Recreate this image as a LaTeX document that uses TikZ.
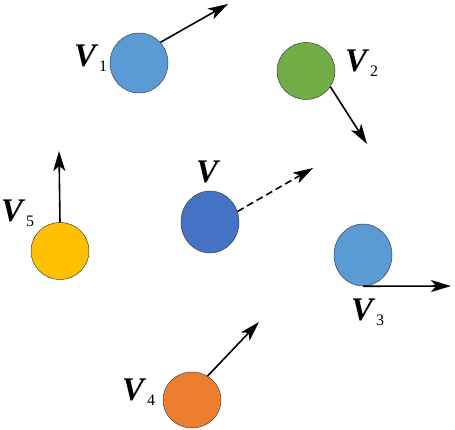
\documentclass[tikz,border=0pt]{standalone}
\usepackage{fontspec}
\setmainfont{Liberation Serif}
\usetikzlibrary{shapes.geometric,arrows.meta}
\definecolor{cblue}{HTML}{5B9BD5}
\definecolor{cgreen}{HTML}{70AD47}
\definecolor{cdark}{HTML}{4472C4}
\definecolor{corange}{HTML}{ED7D31}
\definecolor{cyellow}{HTML}{FFC000}
\newcommand\vlab[1]{{\fontsize{33}{33}\selectfont\bfseries\itshape V}\hspace{3pt}\raisebox{-5pt}{\fontsize{16}{16}\selectfont #1}}
\tikzset{
  ball/.style={ellipse, draw=black!75, line width=0.5pt, minimum width=58pt, minimum height=60pt, inner sep=0pt},
  vel/.style={line width=1.6pt, -{Stealth[length=20pt,width=12pt,inset=5pt]}},
  lab/.style={anchor=base west, inner sep=0pt}
}
\begin{document}
\begin{tikzpicture}[x=1pt,y=-1pt]
\useasboundingbox (0,0) rectangle (455,430);
% balls
\node[ball, fill=cblue] (c1) at (139,63) {};
\node[ball, fill=cgreen, minimum height=57pt] (c2) at (306,71) {};
\node[ball, fill=cdark, minimum height=62pt] (cv) at (210,222) {};
\node[ball, fill=cblue, minimum height=62pt] (c3) at (363,255) {};
\node[ball, fill=corange, minimum height=56pt] (c4) at (192,400) {};
\node[ball, fill=cyellow, minimum height=57pt] (c5) at (60,251) {};
% tips
\coordinate (t1) at (228,4);
\coordinate (t2) at (367,144);
\coordinate (tv) at (313,168);
\coordinate (t3) at (451,286);
\coordinate (t4) at (259,322);
\coordinate (t5) at (59,151);
% arrows
\draw[vel] (c1.44) -- (t1);
\draw[vel] (c2.-33) -- (t2);
\draw[vel, dash pattern=on 7pt off 4pt] (cv.21) -- (tv);
\draw[vel] (c3.south) -- (t3);
\draw[vel] (c4.57) -- (t4);
\draw[vel] (c5.north) -- (t5);
% labels
\node[lab] (l1) at (74,67) {\vlab{1}};
\node[lab] (l2) at (345,72) {\vlab{2}};
\node[lab] (lv) at (196,183) {{\fontsize{33}{33}\selectfont\bfseries\itshape V}};
\node[lab] (l3) at (351,320) {\vlab{3}};
\node[lab] (l4) at (122,400) {\vlab{4}};
\node[lab] (l5) at (1,222) {\vlab{5}};
\end{tikzpicture}
\end{document}
